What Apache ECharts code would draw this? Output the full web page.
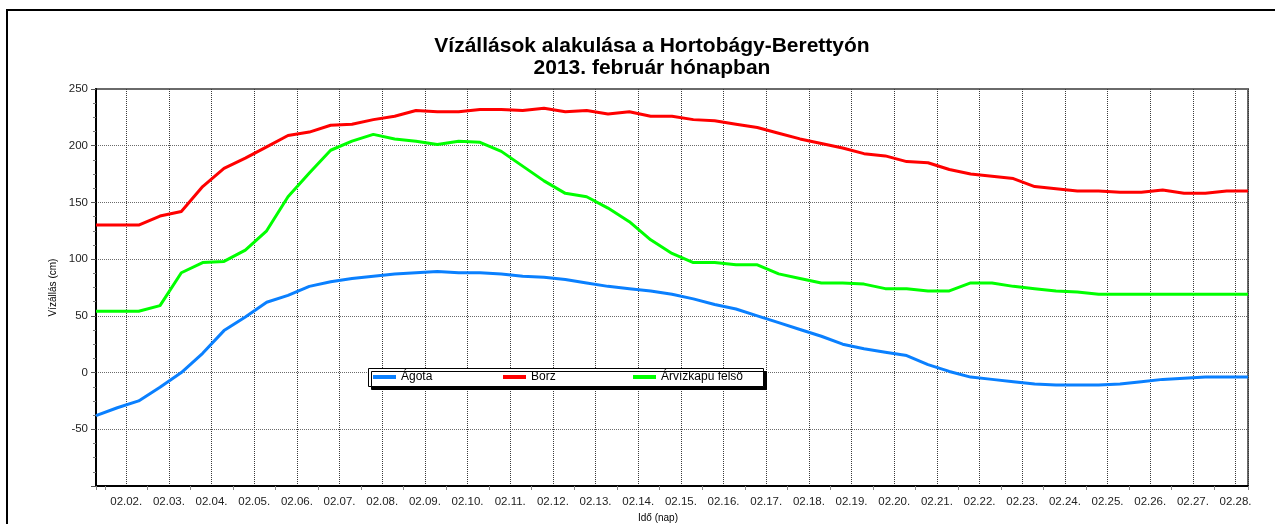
<!DOCTYPE html>
<html>
<head>
<meta charset="utf-8">
<script src="https://cdn.jsdelivr.net/npm/echarts@6/dist/echarts.min.js"></script>
<style>
  html, body { margin: 0; padding: 0; background: #fff; }
  #wrap { position: relative; width: 1275px; height: 524px; }
  #chart { position: absolute; left: 0; top: 0; width: 1275px; height: 524px; }
  /* keret bal és felső vonala */
  #frame {
    position: absolute; left: 6px; top: 9px; right: 0; bottom: 0;
    border-left: 2px solid #000; border-top: 2px solid #000;
    pointer-events: none;
  }
</style>
</head>
<body>
<div id="wrap">
  <div id="chart"></div>
  <div id="frame"></div>
</div>
<script>
// mérési időpontok (reggel 7 és este 7 óra)
var times = [
  "02.01. 07", "02.01. 19", "02.02. 07", "02.02. 19", "02.03. 07", "02.03. 19",
  "02.04. 07", "02.04. 19", "02.05. 07", "02.05. 19", "02.06. 07", "02.06. 19",
  "02.07. 07", "02.07. 19", "02.08. 07", "02.08. 19", "02.09. 07", "02.09. 19",
  "02.10. 07", "02.10. 19", "02.11. 07", "02.11. 19", "02.12. 07", "02.12. 19",
  "02.13. 07", "02.13. 19", "02.14. 07", "02.14. 19", "02.15. 07", "02.15. 19",
  "02.16. 07", "02.16. 19", "02.17. 07", "02.17. 19", "02.18. 07", "02.18. 19",
  "02.19. 07", "02.19. 19", "02.20. 07", "02.20. 19", "02.21. 07", "02.21. 19",
  "02.22. 07", "02.22. 19", "02.23. 07", "02.23. 19", "02.24. 07", "02.24. 19",
  "02.25. 07", "02.25. 19", "02.26. 07", "02.26. 19", "02.27. 07", "02.27. 19",
  "02.28. 07"
];

// vízállások (cm)
var agota = [
  -38, -31, -25, -13, 0, 17, 37, 49, 62, 68, 76, 80, 83, 85, 87, 88, 89, 88,
  88, 87, 85, 84, 82, 79, 76, 74, 72, 69, 65, 60, 56, 50, 44, 38, 32, 25,
  21, 18, 15, 7, 1, -4, -6, -8, -10, -11, -11, -11, -10, -8, -6, -5, -4, -4,
  -4
];
var borz = [
  130, 130, 130, 138, 142, 164, 180, 189, 199, 209, 212, 218, 219, 223, 226, 231, 230, 230,
  232, 232, 231, 233, 230, 231, 228, 230, 226, 226, 223, 222, 219, 216, 211, 206, 202, 198,
  193, 191, 186, 185, 179, 175, 173, 171, 164, 162, 160, 160, 159, 159, 161, 158, 158, 160,
  160
];
var arvizkapu = [
  54, 54, 54, 59, 88, 97, 98, 108, 125, 155, 176, 196, 204, 210, 206, 204, 201, 204,
  203, 195, 182, 169, 158, 155, 145, 133, 117, 105, 97, 97, 95, 95, 87, 83, 79, 79,
  78, 74, 74, 72, 72, 79, 79, 76, 74, 72, 71, 69, 69, 69, 69, 69, 69, 69,
  69
];

var seriesNames = ["Ágota", "Borz", "Árvízkapu felső"];
var seriesColors = ["#0a80ff", "#ff0000", "#00ff00"];

var font = "Arial, 'Liberation Sans', sans-serif";

function pad2(n) {
  return (n < 10 ? "0" : "") + n;
}

// jelmagyarázat: egy elem minden sorozatnak, egyenlő közzel
function makeLegend(i) {
  return {
    data: [seriesNames[i]],
    left: 373 + 130 * i,
    top: 371,
    padding: 0,
    icon: "rect",
    itemWidth: 23,
    itemHeight: 4,
    z: 8,
    selectedMode: false,
    textStyle: {
      fontFamily: font,
      fontSize: 12,
      color: "#000"
    }
  };
}

var myChart = echarts.init(document.getElementById("chart"));

var option = {
  animation: false,
  title: [
    {
      text: "Vízállások alakulása a Hortobágy-Berettyón\n2013. február hónapban",
      left: 647,
      top: 30,
      textAlign: "center",
      textStyle: {
        fontFamily: font,
        fontSize: 21,
        fontWeight: "bold",
        lineHeight: 22,
        color: "#000"
      }
    },
    {
      text: "Idő (nap)",
      left: 653,
      top: 508,
      textAlign: "center",
      textStyle: {
        fontFamily: font,
        fontSize: 10,
        fontWeight: "normal",
        color: "#000"
      }
    }
  ],
  legend: [makeLegend(0), makeLegend(1), makeLegend(2)],
  // a jelmagyarázat doboza árnyékkal
  graphic: [
    {
      type: "rect",
      z: 7,
      shape: { x: 368.5, y: 368.5, width: 395, height: 18 },
      style: {
        fill: "#fff",
        stroke: "#000",
        lineWidth: 1,
        shadowColor: "#000",
        shadowBlur: 0,
        shadowOffsetX: 3,
        shadowOffsetY: 3
      }
    }
  ],
  grid: {
    left: 96,
    top: 89,
    width: 1152,
    height: 397,
    show: true,
    borderColor: "#6a6a6a",
    borderWidth: 2,
    backgroundColor: "transparent"
  },
  xAxis: [
    {
      // adatok tengelye (rejtett)
      type: "category",
      data: times,
      boundaryGap: false,
      position: "bottom",
      axisLine: { show: false },
      axisTick: { show: false },
      axisLabel: { show: false },
      splitLine: { show: false }
    },
    {
      // napok: rácsvonalak és feliratok
      type: "value",
      position: "bottom",
      min: 1.2917,
      max: 28.2917,
      splitNumber: 27,
      minInterval: 1,
      maxInterval: 1,
      axisLine: {
        show: true,
        onZero: false,
        lineStyle: { color: "#000", width: 2 }
      },
      axisTick: { show: false },
      axisLabel: {
        margin: 10,
        fontFamily: font,
        fontSize: 11.5,
        color: "#222",
        showMinLabel: false,
        showMaxLabel: false,
        formatter: function(value) {
          if (Math.abs(value - Math.round(value)) > 0.001) {
            return "";
          }
          return "02." + pad2(Math.round(value)) + ".";
        }
      },
      splitLine: {
        show: true,
        lineStyle: { color: "#3a3a3a", type: "dotted", width: 1 }
      }
    },
    {
      // déli beosztás kis jelölői
      type: "value",
      position: "bottom",
      min: 1.7917,
      max: 28.7917,
      splitNumber: 27,
      minInterval: 1,
      maxInterval: 1,
      axisLine: { show: false, onZero: false },
      axisTick: {
        show: true,
        length: 4,
        lineStyle: { color: "#888", width: 1 }
      },
      axisLabel: { show: false },
      splitLine: { show: false }
    }
  ],
  yAxis: {
    type: "value",
    min: -100,
    max: 250,
    interval: 50,
    name: "Vízállás (cm)",
    nameLocation: "middle",
    nameGap: 38,
    nameTextStyle: {
      fontFamily: font,
      fontSize: 10,
      color: "#000"
    },
    axisLine: {
      show: true,
      onZero: false,
      lineStyle: { color: "#000", width: 2 }
    },
    axisTick: {
      show: true,
      length: 5,
      lineStyle: { color: "#555" }
    },
    minorTick: {
      show: true,
      splitNumber: 4,
      length: 3,
      lineStyle: { color: "#777" }
    },
    axisLabel: {
      margin: 8,
      fontFamily: font,
      fontSize: 11.5,
      color: "#222",
      formatter: function(value) {
        // a -100 nincs kiírva
        return value === -100 ? "" : String(value);
      }
    },
    splitLine: {
      show: true,
      lineStyle: { color: "#6a6a6a", type: "dotted", width: 1 }
    }
  },
  series: [
    {
      name: seriesNames[0],
      type: "line",
      xAxisIndex: 0,
      data: agota,
      showSymbol: false,
      color: seriesColors[0],
      lineStyle: { width: 3, color: seriesColors[0] }
    },
    {
      name: seriesNames[1],
      type: "line",
      xAxisIndex: 0,
      data: borz,
      showSymbol: false,
      color: seriesColors[1],
      lineStyle: { width: 3, color: seriesColors[1] }
    },
    {
      name: seriesNames[2],
      type: "line",
      xAxisIndex: 0,
      data: arvizkapu,
      showSymbol: false,
      color: seriesColors[2],
      lineStyle: { width: 3, color: seriesColors[2] }
    }
  ]
};

myChart.setOption(option);
</script>
</body>
</html>
